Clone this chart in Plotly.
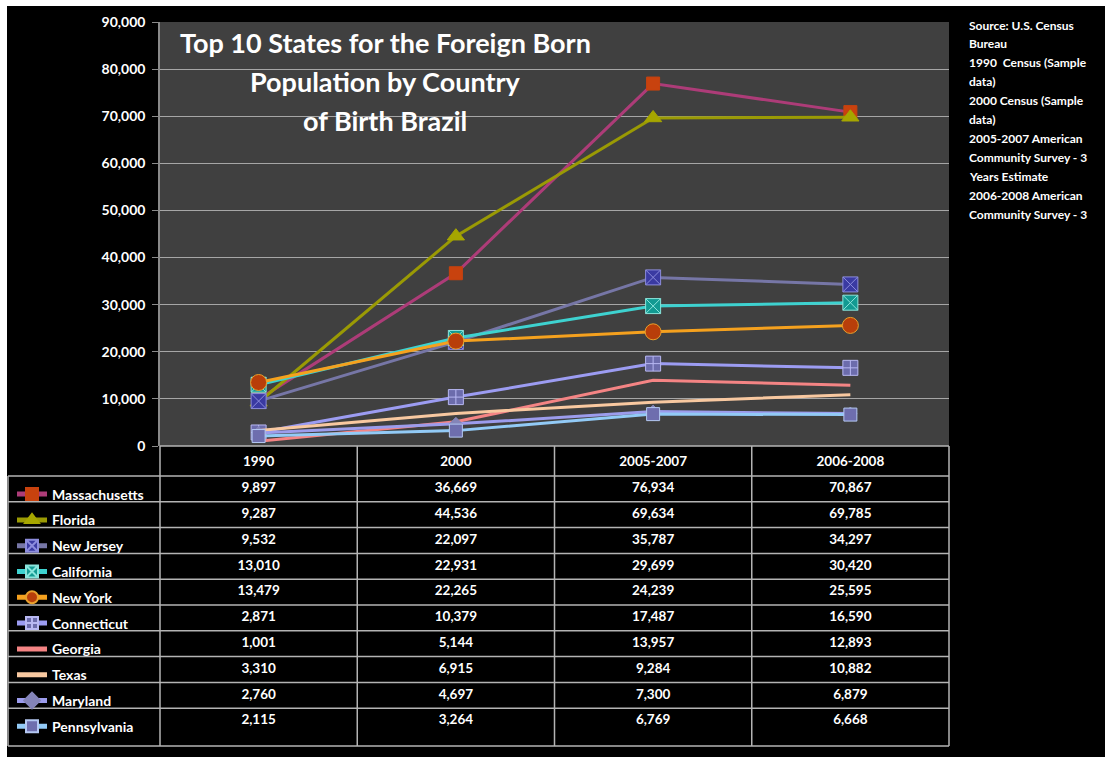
import plotly.graph_objects as go

# ---- data -------------------------------------------------------------
periods = ["1990", "2000", "2005-2007", "2006-2008"]

massachusetts = [9897, 36669, 76934, 70867]
florida = [9287, 44536, 69634, 69785]
new_jersey = [9532, 22097, 35787, 34297]
california = [13010, 22931, 29699, 30420]
new_york = [13479, 22265, 24239, 25595]
connecticut = [2871, 10379, 17487, 16590]
georgia = [1001, 5144, 13957, 12893]
texas = [3310, 6915, 9284, 10882]
maryland = [2760, 4697, 7300, 6879]
pennsylvania = [2115, 3264, 6769, 6668]

state_names = ["Massachusetts", "Florida", "New Jersey", "California", "New York",
               "Connecticut", "Georgia", "Texas", "Maryland", "Pennsylvania"]
state_values = [massachusetts, florida, new_jersey, california, new_york,
                connecticut, georgia, texas, maryland, pennsylvania]

y_ticks = [0, 10000, 20000, 30000, 40000, 50000, 60000, 70000, 80000, 90000]

source_lines = ["Source: U.S. Census", "Bureau", "1990  Census (Sample", "data)",
                "2000 Census (Sample", "data)", "2005-2007 American",
                "Community Survey - 3", "Years Estimate", "2006-2008 American",
                "Community Survey - 3"]

title_lines = ["Top 10 States for the Foreign Born", "Population by Country",
               "of Birth Brazil"]

# ---- styles -----------------------------------------------------------
styles = {
    "Massachusetts": dict(line="#ad3c78", symbol="square", fill="#c8420e", edge="#c8420e", size=13),
    "Florida": dict(line="#9a9a04", symbol="triangle-up", fill="#a6a600", edge="#a6a600", size=15),
    "New Jersey": dict(line="#7676a6", symbol="square-x", fill="#3a3aa2", edge="#8c8cdc", size=15),
    "California": dict(line="#3ed2d0", symbol="square-x", fill="#129a92", edge="#8ae4dc", size=15),
    "New York": dict(line="#f5a11e", symbol="circle", fill="#b83e0a", edge="#e8a02c", size=16),
    "Connecticut": dict(line="#9c9cf2", symbol="square-cross", fill="#6c6cac", edge="#b8b8f2", size=15),
    "Georgia": dict(line="#f48484", symbol=None),
    "Texas": dict(line="#f8c8a0", symbol=None),
    "Maryland": dict(line="#9c9cec", symbol="diamond", fill="#8484b8", edge="#8484b8", size=10),
    "Pennsylvania": dict(line="#92caf6", symbol="square", fill="#6e6eae", edge="#b4c8f2", size=13),
}

FONT = "Lato"
GRID = "#b4b4b4"

# positions below are page pixels, converted to paper fractions
W, H = 1105, 757


def fx(px):
    return px / W


def fy(py):
    return 1 - py / H


# ---- layout geometry (page pixels) -----------------------------------
PLOT_L, PLOT_R, PLOT_T, PLOT_B = 160, 949, 22, 446
COL_W = (PLOT_R - PLOT_L) / len(periods)
TABLE_L, TABLE_B = 8, 746
HEADER_H, ROW_H = 30, 25.8
ROW0_C = PLOT_B + HEADER_H + ROW_H / 2 - ROW_H      # centre of the header slot


def col_unit(px):
    return (px - (PLOT_L + COL_W / 2)) / COL_W


def row_unit(py):
    return (py - ROW0_C) / ROW_H


fig = go.Figure()

for name, vals in zip(state_names, state_values):
    st = styles[name]
    kw = dict(x=periods, y=vals, name=name, legendgroup=name,
              line=dict(color=st["line"], width=3), hoverinfo="skip")
    if st["symbol"]:
        kw["mode"] = "lines+markers"
        kw["marker"] = dict(symbol=st["symbol"], size=st["size"], color=st["fill"],
                            line=dict(color=st["edge"], width=1))
    else:
        kw["mode"] = "lines"
    fig.add_trace(go.Scatter(**kw))

# ---- data table under the plot ---------------------------------------
row_keys = ["period"] + state_names
cell_font = dict(family=FONT, size=13.5, color="white", weight="bold")

fig.add_trace(go.Scatter(x=periods, y=["period"] * len(periods), text=periods,
                         mode="text", textfont=cell_font, showlegend=False,
                         hoverinfo="skip", xaxis="x2", yaxis="y2"))
for j, p in enumerate(periods):
    fig.add_trace(go.Scatter(x=[p] * len(state_names), y=state_names,
                             text=["{:,}".format(vals[j]) for vals in state_values],
                             mode="text", textfont=cell_font, showlegend=False,
                             hoverinfo="skip", xaxis="x2", yaxis="y2"))

x_left, x_data, x_right = col_unit(TABLE_L), col_unit(PLOT_L), col_unit(PLOT_R)
y_top, y_bottom = row_unit(PLOT_B), row_unit(TABLE_B)

shapes = [
    # grey plotting area
    dict(type="rect", xref="x domain", yref="y domain", x0=0, x1=1, y0=0, y1=1,
         fillcolor="#404040", line=dict(width=0), layer="below"),
    # white frame strips along the top and left edges
    dict(type="rect", xref="paper", yref="paper", x0=0, x1=1, y0=fy(6), y1=1,
         fillcolor="white", line=dict(width=0), layer="above"),
    dict(type="rect", xref="paper", yref="paper", x0=0, x1=fx(7), y0=0, y1=1,
         fillcolor="white", line=dict(width=0), layer="above"),
]
tline = dict(color=GRID, width=1.5)
# table header top edge (data columns only)
shapes.append(dict(type="line", xref="x2", yref="y2", x0=x_data, x1=x_right,
                   y0=y_top, y1=y_top, line=tline))
# row separators and bottom edge
for k in range(1, len(state_names) + 1):
    shapes.append(dict(type="line", xref="x2", yref="y2", x0=x_left, x1=x_right,
                       y0=k - 0.5, y1=k - 0.5, line=tline))
shapes.append(dict(type="line", xref="x2", yref="y2", x0=x_left, x1=x_right,
                   y0=y_bottom, y1=y_bottom, line=tline))
# vertical edges
shapes.append(dict(type="line", xref="x2", yref="y2", x0=x_left, x1=x_left,
                   y0=0.5, y1=y_bottom, line=tline))
for c in range(len(periods) + 1):
    shapes.append(dict(type="line", xref="x2", yref="y2", x0=c - 0.5, x1=c - 0.5,
                       y0=y_top, y1=y_bottom, line=tline))

annotations = []
for i, t in enumerate(title_lines):
    annotations.append(dict(text=t, x=fx(385), y=fy(43 + 38.5 * i),
                            xref="paper", yref="paper", xanchor="center", yanchor="middle",
                            showarrow=False,
                            font=dict(family=FONT, size=27, color="white", weight="bold")))
for i, t in enumerate(source_lines):
    annotations.append(dict(text=t, x=fx(967), y=fy(25 + 18.9 * i),
                            xref="paper", yref="paper", xanchor="left", yanchor="middle",
                            showarrow=False,
                            font=dict(family=FONT, size=12, color="white", weight="bold")))

fig.update_layout(
    width=W, height=H,
    margin=dict(l=0, r=0, t=0, b=0, pad=0, autoexpand=False),
    paper_bgcolor="black",
    plot_bgcolor="rgba(0,0,0,0)",
    showlegend=True,
    legend=dict(x=fx(12), y=fy(478.5), xanchor="left", yanchor="top",
                bgcolor="rgba(0,0,0,0)", borderwidth=0,
                font=dict(family=FONT, size=14, color="white", weight="bold"),
                itemsizing="constant", tracegroupgap=4.6, traceorder="grouped"),
    xaxis=dict(domain=[fx(PLOT_L), fx(PLOT_R)], range=[-0.5, 3.5], showticklabels=False,
               showgrid=False, zeroline=False, showline=False, fixedrange=True),
    yaxis=dict(domain=[fy(PLOT_B), fy(PLOT_T)], range=[0, 90000], tickvals=y_ticks,
               tickformat=",", showgrid=True, gridcolor="#a6a6a6", gridwidth=1,
               zeroline=False, showline=True, linecolor="#8a8a8a", linewidth=1.5,
               ticks="outside", ticklen=6, tickcolor="#8a8a8a", ticklabelstandoff=4,
               tickfont=dict(family=FONT, size=14, color="white", weight="bold"),
               fixedrange=True),
    # table axes, padded a few pixels past the grid so edge lines are not clipped
    xaxis2=dict(domain=[fx(TABLE_L - 4), fx(PLOT_R + 4)], anchor="y2",
                type="category", categoryarray=periods,
                range=[col_unit(TABLE_L - 4), col_unit(PLOT_R + 4)],
                visible=False, fixedrange=True),
    yaxis2=dict(domain=[fy(TABLE_B + 3), fy(PLOT_B - 3)], anchor="x2",
                type="category", categoryarray=row_keys,
                range=[row_unit(TABLE_B + 3), row_unit(PLOT_B - 3)],
                visible=False, fixedrange=True),
    shapes=shapes,
    annotations=annotations,
)

fig.write_html("out.html")
